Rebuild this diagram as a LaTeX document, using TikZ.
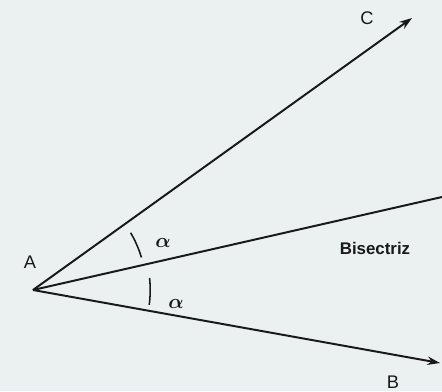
\documentclass[tikz,border=0pt]{standalone}
\usepackage{fontspec}
\setmainfont{Liberation Sans}
\usepackage{tikz}
\usetikzlibrary{positioning, arrows.meta, calc}

\begin{document}
\begin{tikzpicture}[
    ray/.style={-{Stealth[length=9pt,width=6pt]}, line width=1.4pt, draw=black!90},
    half/.style={line width=1.1pt, draw=black!90},
    lbl/.style={font=\fontsize{13}{15}\selectfont, text=black!90, inner sep=0pt},
    ang/.style={font=\fontsize{15}{17}\selectfont\boldmath, text=black!90, inner sep=0pt}
]
% fondo
\fill[fill={rgb,255:red,234;green,241;blue,240}] (0,0) rectangle (11.05,9.775);
\useasboundingbox (0,0) rectangle (11.05,9.775);

% vertice y extremos
\coordinate (A) at (0.825,2.525);
\coordinate (Ctip) at (10.3,9.325);
\coordinate (Btip) at (11.0,0.7);
\coordinate (Bis) at (11.05,4.85);

% rayos
\draw[ray] (A) -- (Ctip);
\draw[ray] (A) -- (Btip);
\draw[line width=1.4pt, draw=black!90] (A) -- (Bis);

% arcos
\draw[half] ([shift={(16.7:2.83)}]A) arc (16.7:30.4:2.83);
\draw[half] ([shift={(-7.3:2.93)}]A) arc (-7.3:5.9:2.93);

% etiquetas
\node[lbl] (labC) at (9.175,9.325) {C};
\node[lbl] (labA) at (0.75,3.225) {A};
\node[lbl] (labB) at (9.825,0.225) {B};
\node[lbl, font=\fontsize{12}{14}\selectfont\bfseries] (labBis) at (9.375,3.575) {Bisectriz};
\node[ang] (alpha1) at (4.075,3.7) {$\alpha$};
\node[ang] (alpha2) at (4.4,2.175) {$\alpha$};

\end{tikzpicture}
\end{document}
